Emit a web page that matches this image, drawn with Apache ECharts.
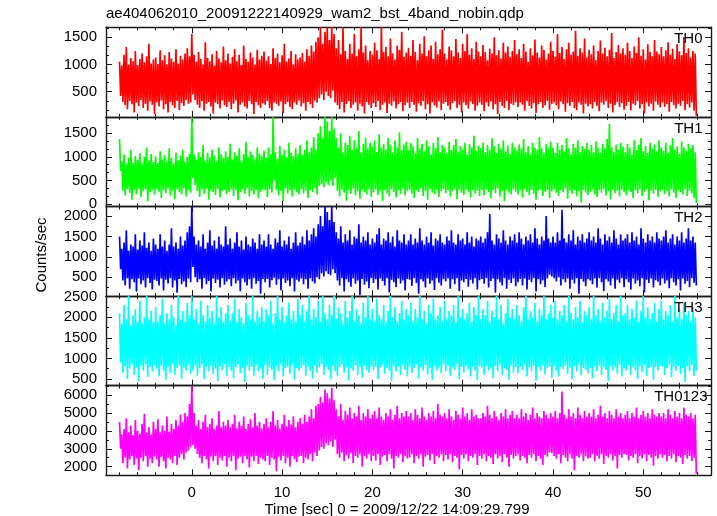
<!DOCTYPE html>
<html><head><meta charset="utf-8">
<script src="https://cdn.jsdelivr.net/npm/echarts@6/dist/echarts.min.js"></script>
<style>html,body{margin:0;padding:0;background:#fff}#c{width:717px;height:516px}</style>
</head><body><div id="c"></div>
<script>
// each 0.25 s bin from -8 s holds a local peak and a local trough (16 bins = 4 s per row)
const timeStart = -8;
const binWidth = 0.25;

const th0Peaks = [
1050,980,1180,1320,1000,1120,1060,1250,990,1100,1200,1040,1150,1380,1020,1090,
1130,1010,1260,1080,1170,1000,1230,1110,1050,1280,1020,1160,1090,1200,1300,1150,
1560,1180,1050,1230,1100,1000,1410,1120,1060,1190,980,1250,1110,1040,1330,1080,
1200,1020,1140,1280,1060,1180,990,1350,1100,1050,1220,1130,1000,1270,1090,1160,
1240,1070,1150,1010,1300,1120,1200,1040,1170,1380,1060,1110,1250,1000,1190,1090,
1130,1210,1050,1280,1160,1350,1240,1420,1500,1690,1380,1600,1700,1450,1690,1560,
1300,1450,1190,1690,1250,1100,1380,1200,1560,1150,1280,1690,1220,1350,1080,1250,
1180,1400,1260,1100,1690,1230,1320,1150,1480,1200,1090,1350,1270,1600,1140,1220,
1310,1160,1450,1230,1080,1380,1200,1520,1150,1260,1350,1100,1420,1190,1280,1640,
1200,1090,1330,1260,1150,1470,1220,1120,1380,1250,1560,1180,1300,1100,1420,1240,
1150,1360,1230,1080,1290,1200,1500,1170,1260,1110,1400,1220,1330,1140,1250,1450,
1190,1280,1120,1380,1240,1050,1300,1170,1460,1220,1130,1350,1270,1090,1200,1420,
1250,1140,1560,1210,1320,1100,1280,1400,1180,1240,1620,1160,1300,1220,1480,1130,
1270,1190,1350,1080,1250,1440,1200,1310,1150,1270,1580,1120,1230,1360,1200,1300,
1180,1400,1250,1120,1330,1210,1500,1160,1280,1090,1370,1230,1150,1450,1240,1190,
1320,1150,1260,1410,1180,1290,1100,1370,1240,1170,1500,1210,1300,1130,1250,1200];
const th0Troughs = [
420,310,250,180,330,270,120,300,240,350,200,280,150,320,260,90,
300,230,340,180,270,120,310,250,200,330,160,290,240,350,280,300,
450,350,260,200,330,150,280,310,230,100,300,270,190,340,250,220,
310,180,280,340,120,260,300,230,190,330,270,90,310,250,200,290,
260,330,200,150,300,280,240,320,110,270,310,220,180,300,260,340,
230,290,150,310,270,200,340,300,380,450,350,500,420,380,520,300,
250,180,310,120,270,330,200,260,300,150,280,230,100,310,260,200,
290,220,330,160,260,300,110,280,240,320,190,270,310,140,250,300,
200,310,260,130,290,240,330,180,270,100,300,250,210,320,160,280,
310,240,170,290,330,200,260,120,300,250,190,320,270,150,240,300,
260,140,300,230,320,180,270,90,310,240,200,330,160,280,250,300,
220,300,260,150,330,240,190,290,110,270,310,200,250,330,170,280,
300,250,180,320,270,130,290,240,310,200,160,300,260,100,280,230,
270,190,310,240,140,300,260,330,200,280,120,250,310,220,290,170,
240,310,160,280,250,330,190,270,100,300,230,280,150,320,260,210,
300,220,270,130,310,250,190,280,240,330,160,270,210,300,150,60];

const th1Peaks = [
1380,900,1050,850,980,1150,880,1020,940,1080,860,1000,1200,920,1060,890,
1010,870,1120,950,1040,900,1180,980,860,1090,930,1030,1150,900,1000,1060,
1848,1050,950,1100,1000,1250,920,1080,990,1150,1030,900,1200,1060,980,1120,
1000,1280,950,1100,1030,1180,920,1060,1320,990,1120,1040,950,1200,1070,1010,
1130,980,1200,1050,1848,1100,960,1230,1040,1150,990,1300,1080,1020,1180,1070,
1250,1040,1150,1350,1100,1200,1420,1150,1500,1650,1400,1848,1750,1550,1848,1600,
1400,1200,1500,1100,1300,1250,1450,1150,1350,1200,1550,1100,1280,1400,1180,1300,
1220,1350,1100,1480,1200,1280,1150,1400,1250,1080,1350,1200,1520,1150,1260,1320,
1150,1300,1220,1080,1400,1180,1280,1120,1350,1230,1050,1300,1180,1420,1100,1250,
1200,1080,1320,1150,1250,1380,1100,1230,1160,1300,1050,1270,1200,1450,1130,1240,
1180,1300,1100,1250,1150,1400,1220,1080,1280,1180,1350,1120,1240,1060,1300,1200,
1130,1260,1180,1380,1100,1230,1050,1300,1200,1150,1420,1180,1090,1270,1200,1320,
1200,1080,1300,1150,1250,1120,1400,1180,1060,1280,1200,1350,1100,1230,1170,1300,
1150,1250,1100,1330,1200,1080,1280,1180,1380,1700,1200,1100,1260,1150,1300,1220,
1100,1280,1200,1050,1350,1150,1250,1400,1120,1230,1080,1300,1180,1260,1120,1350,
1200,1130,1300,1080,1250,1400,1150,1220,1060,1330,1200,1130,1280,1180,1250,1100];
const th1Troughs = [
700,280,180,320,240,90,300,210,330,150,270,310,60,250,290,200,
320,260,130,300,230,340,180,280,100,310,250,200,330,160,290,240,
550,400,270,150,310,220,330,90,280,250,190,320,140,270,300,210,
260,320,170,290,80,250,310,220,340,160,280,200,300,120,260,310,
290,150,320,240,500,300,180,270,60,330,220,290,160,310,250,200,
310,230,280,130,300,250,340,200,380,420,350,450,400,500,380,550,
280,160,310,240,70,290,220,330,180,270,110,300,250,200,320,150,
250,310,190,280,60,300,230,160,320,250,140,290,210,330,180,270,
300,220,130,290,250,330,170,280,90,310,240,200,300,150,270,320,
230,300,160,270,320,100,290,240,190,310,260,140,300,220,280,170,
290,180,310,250,120,300,230,330,160,270,60,290,240,200,310,260,
200,290,140,320,250,180,300,220,90,280,310,170,260,300,130,270,
310,240,170,290,250,330,110,280,220,300,160,270,30,300,240,190,
260,310,200,150,290,240,320,180,270,100,300,230,280,160,310,250,
180,300,250,120,290,230,320,170,260,310,80,280,220,300,150,270,
300,210,270,160,310,240,130,290,250,200,320,170,280,230,120,20];

const th2Peaks = [
1500,1200,1350,1650,1150,1300,1250,1550,1180,1400,1280,1600,1220,1350,1150,1450,
1300,1200,1550,1250,1400,1150,1300,1700,1250,1350,1200,1500,1280,1400,1600,1750,
2232,1500,1300,1400,1250,1550,1200,1350,1650,1280,1400,1200,1500,1300,1250,1750,
1300,1450,1200,1350,1600,1250,1400,1180,1500,1300,1250,1450,1350,1200,1550,1300,
1400,1250,1550,1300,1200,1450,1350,1650,1250,1400,1300,1500,1200,1350,1600,1280,
1350,1500,1300,1650,1400,1550,1700,1500,1800,2000,1750,2232,2100,1900,2232,1850,
1600,1450,1750,1350,1550,1400,1650,1300,1500,1450,1800,1350,1500,1400,1600,1300,
1450,1350,1550,1700,1300,1450,1400,1600,1350,1500,1250,1650,1400,1350,1550,1300,
1400,1550,1300,1450,1350,1700,1400,1300,1500,1350,1600,1280,1450,1400,1550,1350,
1300,1500,1400,1650,1350,1300,1550,1400,1450,1300,1600,1350,1500,1250,1450,1400,
1500,1350,1450,1600,2050,1400,1300,1550,1450,1350,1650,1400,1300,1500,1400,1550,
1350,1600,1450,1300,1500,1400,1550,1350,1700,1450,1300,1500,1400,2000,1450,1350,
1500,1350,1600,1400,2150,1450,1350,1550,1400,1650,1300,1500,1400,1550,1350,1450,
1600,1400,1500,1350,1700,1450,1300,1550,1400,1500,1350,1650,1450,1300,1550,1400,
1450,1550,1350,1600,1400,1500,1300,1700,1450,1350,1550,1400,1500,1350,1600,1450,
1400,1500,1650,1350,1450,1550,1300,1500,1400,1600,1350,1450,1700,1400,1500,1350];
const th2Troughs = [
700,420,300,480,220,450,380,150,470,330,420,250,480,360,200,440,
410,300,470,180,440,350,480,250,420,120,460,330,400,260,470,380,
750,500,380,450,220,480,330,410,150,470,360,440,250,480,320,400,
450,280,480,350,420,160,470,380,300,450,220,480,340,410,100,460,
380,460,250,430,490,320,450,180,470,360,420,280,480,150,440,390,
470,330,450,220,480,400,350,500,450,600,520,650,580,550,700,600,
420,300,480,150,450,380,270,470,340,420,60,460,320,400,230,480,
360,450,200,470,410,300,480,130,440,380,260,470,350,420,180,460,
440,290,480,360,100,450,400,250,470,340,420,190,480,370,300,450,
400,470,220,450,330,480,160,420,380,460,270,440,350,480,200,430,
460,340,480,250,410,470,120,450,380,300,480,220,440,360,470,280,
380,460,300,470,200,440,380,480,150,450,330,420,260,470,560,520,
480,400,500,300,450,380,470,220,440,350,480,100,460,390,280,450,
420,330,470,250,480,380,160,450,400,300,470,220,440,370,480,260,
450,380,200,470,340,420,280,480,130,440,360,470,250,430,390,300,
470,350,420,230,480,380,300,450,180,470,340,410,260,480,370,300];

const th3Peaks = [
2100,1850,2300,1950,2515,1800,2050,2200,1900,2400,1850,2000,2515,1950,2150,1880,
2250,1900,2050,2450,1850,2100,1950,2300,2000,1820,2515,1950,2150,1900,2350,2050,
2515,1950,2200,1850,2400,2050,1900,2300,1980,2150,1850,2515,2000,2250,1900,2100,
2300,1920,2100,2450,1880,2200,2000,1850,2350,2050,1950,2515,1900,2150,2000,2250,
1900,2200,2050,2400,1850,2100,2515,1950,2250,1880,2050,2350,1950,2150,1900,2450,
2050,2300,1900,2150,2515,1950,2200,2000,2400,1900,2515,2100,1950,2300,2050,2515,
1950,2250,2100,1850,2400,2000,2150,2515,1900,2200,2050,1850,2350,2000,2515,1950,
2200,1900,2450,2050,1950,2300,1880,2150,2515,2000,2250,1900,2100,2400,1950,2200,
2050,2350,1900,2200,2000,2515,1950,2150,1850,2300,2100,2450,1950,2050,2250,1900,
2400,1950,2150,2050,2300,1880,2515,2000,2200,1950,2100,2350,1900,2250,2050,2515,
1950,2200,2050,2400,1900,2150,2000,2515,1950,2300,1850,2100,2450,2000,2200,1950,
2300,2050,1900,2250,2515,1950,2150,2000,2350,1900,2200,2050,2515,1950,2100,2300,
2000,2400,1950,2150,2050,2300,1900,2515,2100,1950,2250,2000,2400,1880,2150,2050,
2250,1950,2515,2050,2200,1900,2350,2000,2150,2450,1950,2100,2300,1900,2515,2050,
2100,2300,1950,2200,2000,2400,1900,2150,2515,2000,2250,1950,2100,2350,1900,2200,
2400,1950,2150,2050,2300,1900,2515,2000,2200,1950,2350,2050,2150,1900,2250,2000];
const th3Troughs = [
900,650,800,500,760,850,600,780,450,820,700,860,550,790,680,840,
750,560,820,700,480,800,650,870,600,760,820,500,780,700,850,620,
700,820,580,760,850,500,790,680,830,620,750,450,800,720,860,580,
800,700,520,780,850,640,760,430,820,700,790,580,840,680,750,500,
830,600,780,720,470,810,680,860,560,760,800,620,850,480,770,700,
760,840,580,800,700,520,830,650,780,860,600,790,720,500,820,680,
580,780,850,650,800,460,760,700,840,600,790,530,820,720,650,800,
720,800,500,780,850,630,760,700,450,820,680,790,600,840,720,560,
800,650,760,860,520,790,700,830,610,760,480,820,700,780,640,850,
690,820,580,780,720,850,500,790,660,830,740,560,800,700,470,810,
780,600,830,700,760,520,810,680,850,590,770,720,480,820,660,790,
640,800,720,850,560,780,690,820,460,790,700,840,610,760,800,530,
820,700,560,790,740,830,620,770,500,810,680,850,590,760,720,640,
760,520,810,690,840,600,780,720,450,820,700,790,630,850,560,770,
700,830,600,780,720,500,810,670,850,580,760,800,480,790,700,820,
800,600,760,850,540,790,700,820,620,760,430,800,690,840,580,700];

const th0123Peaks = [
4500,3800,4100,4700,3900,4300,3750,4600,4000,3850,4400,4950,3900,4200,3800,4500,
4100,4650,3900,4300,4000,4800,3950,4400,4100,4600,4300,4900,4500,5000,4800,5500,
6519,5000,4300,4600,4100,4500,4900,4200,4400,4700,4100,4300,5100,4200,4500,4300,
4600,4200,4400,4900,4150,4500,4300,4800,4100,4400,4650,4200,5000,4300,4500,4150,
4400,4700,4200,4500,5100,4300,4600,4150,4400,4900,4250,4600,4350,4800,4200,4500,
4700,4400,4900,4500,4800,5200,4700,5400,5500,5900,5600,6300,6100,5800,6400,5700,
5200,4800,5500,4600,5100,4900,5300,4700,5000,4800,5400,4600,5000,4800,5200,4700,
4900,5100,4700,5300,4800,4600,5000,4800,5200,4600,4900,5400,4700,5000,4800,5100,
4800,5000,4600,5200,4900,4700,5300,4800,4600,5000,4800,5100,4700,5500,4900,4800,
5000,4700,5200,4800,4600,5100,4900,4700,5300,4800,5000,4600,5200,4800,4900,4700,
4700,5000,4800,5400,4900,4700,5100,4800,4600,5000,4800,5200,4700,4900,5100,4700,
4900,4700,5200,4800,5000,4600,4900,5300,4700,5000,4800,4700,5100,4900,4700,5000,
4800,5100,4700,5000,6200,4900,4700,5200,4800,5000,4700,5300,4900,4700,5100,4800,
5000,4800,5200,4700,4900,5400,4800,5000,4700,5100,4900,4700,5200,4800,5000,4700,
4900,5100,4700,5000,4800,5300,4700,4900,5100,4800,5000,4700,5200,4900,4800,5000,
4800,5000,4700,5200,4900,4700,5100,4800,5000,4700,5300,4900,4800,5000,4700,4900];
const th0123Troughs = [
3000,2200,2500,1900,2400,2600,2100,2450,1800,2500,2300,2600,2000,2450,2200,2550,
2400,2000,2550,2300,1900,2500,2400,2200,2600,2100,2500,2700,2400,2800,2900,3100,
3200,3000,2700,2500,2200,2600,2400,1900,2550,2300,2600,2100,2500,2350,2600,2000,
2500,2300,2600,1800,2450,2550,2200,2600,2400,1950,2550,2300,2600,2150,2500,2400,
2300,2600,2100,2500,2400,1750,2550,2350,2600,2200,2500,2000,2600,2400,2250,2550,
2600,2200,2500,2400,2700,2300,2800,2600,2900,3100,3000,3300,3200,3400,3100,3500,
2700,2500,2800,2300,2650,2450,2750,2200,2600,2500,2700,2000,2600,2450,2700,2300,
2600,2350,2700,2100,2550,2650,2300,2700,2450,1900,2600,2500,2700,2250,2600,2450,
2500,2700,2200,2600,2450,2700,2000,2550,2650,2350,2700,2150,2600,2500,2700,2300,
2650,2400,2700,2250,2600,2500,1850,2650,2450,2700,2300,2600,2500,2700,2100,2600,
2450,2700,2300,2600,2500,2150,2700,2450,2600,2250,2700,2500,2000,2650,2450,2600,
2700,2350,2600,2500,2200,2650,2500,2700,2300,2600,2450,2100,2650,2550,2800,2750,
2600,2450,2700,2200,2650,2500,2300,2700,2450,1800,2600,2500,2700,2300,2600,2450,
2500,2700,2300,2600,2450,2700,2150,2600,2500,2700,2350,2600,1900,2650,2500,2700,
2650,2350,2600,2500,2700,2200,2600,2450,2700,2300,2650,2500,2050,2600,2450,2700,
2500,2650,2300,2600,2450,2700,2250,2600,2500,2150,2650,2450,2600,2300,2500,1600];

const panelNames = ['TH0','TH1','TH2','TH3','TH0123'];
const panelColors = ['#ff0000','#00ff00','#0000ff','#00ffff','#ff00ff'];
const panelPeaks = [th0Peaks, th1Peaks, th2Peaks, th3Peaks, th0123Peaks];
const panelTroughs = [th0Troughs, th1Troughs, th2Troughs, th3Troughs, th0123Troughs];
const yMin = [37, -53, 40, 337, 1520];
const yMax = [1684, 1848, 2232, 2515, 6519];
const yTickLabels = [[500,1000,1500],[0,500,1000,1500],[500,1000,1500,2000],[500,1000,1500,2000,2500],[2000,3000,4000,5000,6000]];
const yMinorStep = [500/3, 500/3, 250, 250, 500];
const xMin = -9.5, xMax = 57.5;
const xTickLabels = [0,10,20,30,40,50];
const xMinorStep = 2;
const titleText = 'ae404062010_20091222140929_wam2_bst_4band_nobin.qdp';
const xTitle = 'Time [sec] 0 = 2009/12/22 14:09:29.799';
const yTitle = 'Counts/sec';

const FONT = 'Liberation Sans, Arial, Helvetica, sans-serif';
const AX = '#1a1a1a';
const gridLeft = 106, gridWidth = 605, gridTop0 = 27.3, gridH = 89.6;

function zigzag(peaks, troughs) {
  const d = [];
  for (let i = 0; i < peaks.length; i++) {
    const t = timeStart + i * binWidth;
    d.push([t, peaks[i]]);
    d.push([t + binWidth / 2, troughs[i]]);
  }
  return d;
}
function tickVals(min, max, step, skip) {
  const out = [];
  for (let k = Math.ceil(min / step - 1e-9); k * step <= max; k++) {
    const v = k * step;
    if (!skip.some(m => Math.abs(m - v) < 1e-6)) out.push(v);
  }
  return out;
}
const xMajorAll = tickVals(xMin, xMax, 10, []);
const xMinorAll = tickVals(xMin, xMax, xMinorStep, xMajorAll);
const fmt = v => String(Math.round(v));

const grids = [], xAxes = [], yAxes = [], series = [], graphics = [];
for (let p = 0; p < 5; p++) {
  grids.push({ left: gridLeft, top: gridTop0 + p * gridH, width: gridWidth, height: gridH });
  const mkX = (pos, major, labels) => ({
    type: 'value', gridIndex: p, position: pos, min: xMin, max: xMax,
    axisLine: { show: major, onZero: false, lineStyle: { color: AX, width: 1.4 } },
    axisTick: { show: true, inside: true, length: major ? 6 : 3, customValues: major ? xMajorAll : xMinorAll, lineStyle: { color: AX, width: 1 } },
    axisLabel: { show: labels, customValues: xTickLabels, formatter: fmt, fontSize: 15, color: '#000', fontFamily: FONT, margin: 10 },
    splitLine: { show: false }
  });
  xAxes.push(mkX('bottom', true, p === 4), mkX('top', true, false), mkX('bottom', false, false), mkX('top', false, false));
  const yStep = yTickLabels[p][1] - yTickLabels[p][0];
  const majors = tickVals(yMin[p], yMax[p], yStep, []);
  const minors = tickVals(yMin[p], yMax[p], yMinorStep[p], majors);
  const mkY = (pos, major, labels) => ({
    type: 'value', gridIndex: p, position: pos, min: yMin[p], max: yMax[p],
    axisLine: { show: major, onZero: false, lineStyle: { color: AX, width: 1.4 } },
    axisTick: { show: true, inside: true, length: major ? 6 : 3, customValues: major ? majors : minors, lineStyle: { color: AX, width: 1 } },
    axisLabel: { show: labels, customValues: yTickLabels[p], formatter: fmt, fontSize: 15, color: '#000', fontFamily: FONT, margin: 9 },
    splitLine: { show: false }
  });
  yAxes.push(mkY('left', true, true), mkY('right', true, false), mkY('left', false, false), mkY('right', false, false));
  series.push({
    type: 'line', xAxisIndex: p * 4, yAxisIndex: p * 4, data: zigzag(panelPeaks[p], panelTroughs[p]),
    showSymbol: false, symbol: 'none', clip: true, silent: true,
    lineStyle: { color: panelColors[p], width: 1.7 }, itemStyle: { color: panelColors[p] }
  });
  graphics.push({
    type: 'text', right: p === 4 ? 717 - 707.5 : 717 - 702.5, top: gridTop0 + p * gridH + 4,
    style: { text: panelNames[p], fontSize: 15, fontFamily: FONT, fill: '#000' }, z: 100
  });
}
graphics.push({ type: 'text', left: 106, top: 6, style: { text: titleText, fontSize: 15, fontFamily: FONT, fill: '#000' } });
graphics.push({ type: 'text', x: 397, y: 510, style: { text: xTitle, fontSize: 15, fontFamily: FONT, fill: '#000', align: 'center', verticalAlign: 'middle' } });
graphics.push({ type: 'text', x: 42, y: 255, rotation: Math.PI / 2, style: { text: yTitle, fontSize: 15, fontFamily: FONT, fill: '#000', align: 'center', verticalAlign: 'middle' } });

const chart = echarts.init(document.getElementById('c'), null, { renderer: 'canvas' });
chart.setOption({
  animation: false, backgroundColor: '#fff',
  grid: grids, xAxis: xAxes, yAxis: yAxes, series: series, graphic: graphics
});
</script></body></html>
